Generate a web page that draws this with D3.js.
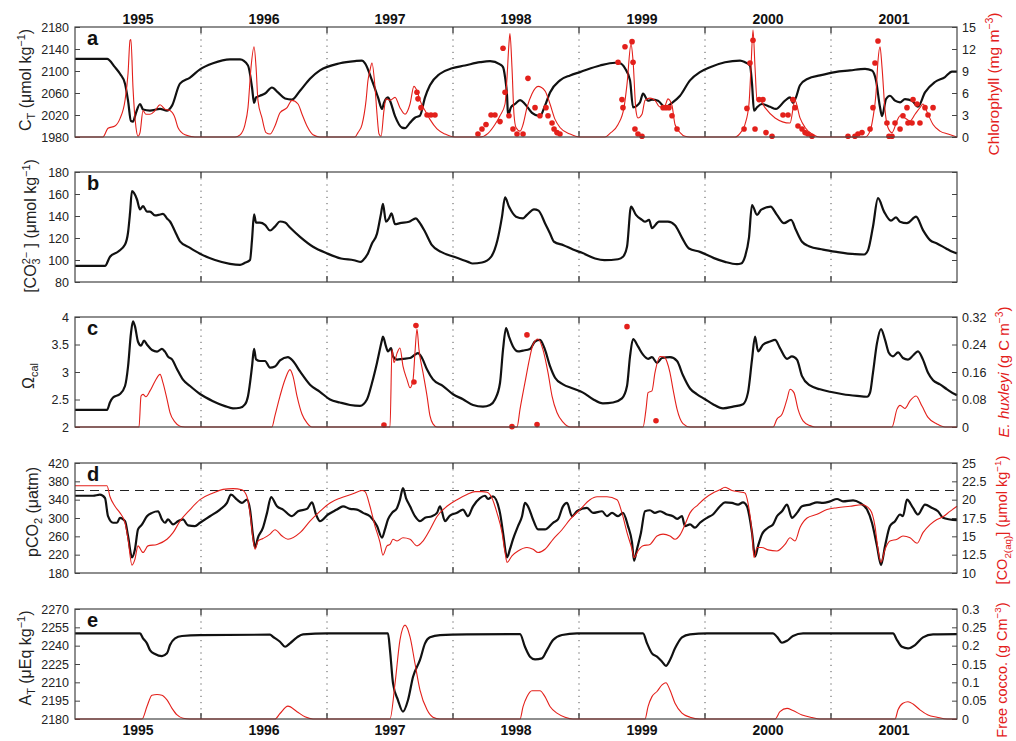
<!DOCTYPE html>
<html>
<head>
<meta charset="utf-8">
<script src="https://cdn.jsdelivr.net/npm/d3@7"></script>
<style>
body{margin:0;background:#fff;}
svg text{font-family:"Liberation Sans",Arial,Helvetica,sans-serif;}
</style>
</head>
<body>
<svg id="chart" width="1016" height="741"></svg>
<script>
// ---- data (time in decimal years) ----
const years = [1995,1996,1997,1998,1999,2000,2001];
const yearBreaks = [1995.5,1996.5,1997.5,1998.5,1999.5,2000.5];

const ctTicks = [1980,2020,2060,2100,2140,2180];
const chlTicks = [0,3,6,9,12,15];
const co3Ticks = [80,100,120,140,160,180];
const omegaTicks = [2,2.5,3,3.5,4];
const huxTicks = [0,0.08,0.16,0.24,0.32];
const pco2Ticks = [180,220,260,300,340,380,420];
const co2aqTicks = [10,12.5,15,17.5,20,22.5,25];
const atTicks = [2180,2195,2210,2225,2240,2255,2270];
const coccoTicks = [0,0.05,0.1,0.15,0.2,0.25,0.3];
const pco2Ref = 360;

// a: total inorganic carbon (model) and chlorophyll
const ctSeries = [[1994.5,2122],[1994.754,2122],[1994.817,2107],[1994.857,2095],[1994.897,2077],[1994.921,2046],[1994.944,2009],[1994.96,2008],[1994.984,2024],[1995.016,2040],[1995.04,2030],[1995.095,2028],[1995.175,2031],[1995.23,2028],[1995.27,2037],[1995.333,2077],[1995.413,2088],[1995.492,2103],[1995.595,2114],[1995.73,2121],[1995.81,2121],[1995.873,2110],[1995.905,2070],[1995.921,2042],[1995.937,2052],[1995.968,2055],[1996.008,2059],[1996.063,2070],[1996.111,2061],[1996.167,2050],[1996.222,2048],[1996.286,2064],[1996.365,2086],[1996.444,2101],[1996.603,2114],[1996.722,2118],[1996.778,2119],[1996.802,2114],[1996.857,2083],[1996.905,2052],[1996.937,2031],[1996.952,2042],[1996.984,2052],[1997,2046],[1997.04,2018],[1997.095,1997],[1997.119,1996],[1997.159,2006],[1997.198,2015],[1997.238,2019],[1997.278,2052],[1997.317,2074],[1997.397,2095],[1997.492,2105],[1997.595,2110],[1997.714,2116],[1997.794,2118],[1997.873,2112],[1997.897,2107],[1997.913,2089],[1997.929,2055],[1997.937,2019],[1997.96,2034],[1997.992,2040],[1998.032,2047],[1998.071,2040],[1998.127,2024],[1998.19,2018],[1998.23,2037],[1998.27,2061],[1998.349,2083],[1998.429,2092],[1998.508,2098],[1998.667,2110],[1998.786,2115],[1998.825,2114],[1998.865,2105],[1998.905,2083],[1998.929,2034],[1998.984,2043],[1999.008,2059],[1999.048,2046],[1999.079,2048],[1999.127,2046],[1999.183,2034],[1999.238,2042],[1999.302,2055],[1999.381,2083],[1999.46,2098],[1999.54,2107],[1999.659,2116],[1999.778,2119],[1999.817,2116],[1999.857,2110],[1999.873,2077],[1999.889,2028],[1999.913,2034],[1999.952,2040],[2000.016,2035],[2000.063,2031],[2000.135,2046],[2000.175,2052],[2000.198,2042],[2000.222,2052],[2000.254,2074],[2000.317,2086],[2000.413,2092],[2000.532,2098],[2000.651,2101],[2000.77,2104],[2000.825,2101],[2000.857,2083],[2000.889,2034],[2000.905,2018],[2000.937,2049],[2000.968,2055],[2001.008,2046],[2001.048,2043],[2001.087,2049],[2001.143,2046],[2001.19,2035],[2001.246,2061],[2001.325,2080],[2001.405,2089],[2001.46,2099],[2001.5,2099]];

const chlSeries = [[1994.5,0],[1994.722,0],[1994.762,1.2],[1994.817,1.5],[1994.857,2.5],[1994.897,5],[1994.921,8.7],[1994.937,13.2],[1994.944,13.3],[1994.96,6.8],[1994.984,1.3],[1995,0.1],[1995.016,0.6],[1995.04,3.6],[1995.063,3.1],[1995.095,3.1],[1995.135,3.6],[1995.175,4.4],[1995.214,3.8],[1995.254,3.6],[1995.294,2.6],[1995.317,1.3],[1995.373,0.3],[1995.452,0],[1995.77,0],[1995.81,0.3],[1995.849,1.7],[1995.873,4],[1995.897,9.5],[1995.921,12.3],[1995.937,9.5],[1995.952,5],[1995.984,2.6],[1996.016,0.6],[1996.048,0.4],[1996.087,1.5],[1996.127,3.3],[1996.183,4],[1996.222,5],[1996.27,4.5],[1996.302,3.1],[1996.341,1.5],[1996.389,0.3],[1996.444,0],[1996.722,0],[1996.746,0.6],[1996.778,1.7],[1996.81,5],[1996.825,7.7],[1996.841,9.1],[1996.857,10.1],[1996.881,6.8],[1996.897,3.1],[1996.913,0.4],[1996.929,0.1],[1996.952,3.6],[1996.968,5.2],[1997,5],[1997.04,5.4],[1997.079,4],[1997.119,3.1],[1997.159,4.5],[1997.19,6.9],[1997.214,6.3],[1997.238,5],[1997.278,3.6],[1997.317,2.4],[1997.373,1.1],[1997.437,0.4],[1997.516,0],[1997.714,0],[1997.778,0.5],[1997.833,1.7],[1997.873,2.9],[1997.913,4.5],[1997.929,8.2],[1997.944,12.7],[1997.952,14.1],[1997.968,9.5],[1997.984,3.1],[1998,1.3],[1998.032,0.8],[1998.056,1.7],[1998.087,4],[1998.127,5.9],[1998.175,6.9],[1998.23,6.3],[1998.27,4.5],[1998.31,2.4],[1998.349,1.3],[1998.429,0.4],[1998.508,0],[1998.706,0],[1998.746,0.5],[1998.81,1.7],[1998.857,4],[1998.881,7.2],[1998.913,12.7],[1998.929,10.4],[1998.952,3.6],[1998.968,2.6],[1999,3.1],[1999.024,5],[1999.063,5.3],[1999.103,5],[1999.143,4.1],[1999.183,4.3],[1999.206,5.2],[1999.238,4.3],[1999.262,1.7],[1999.302,0.6],[1999.341,0.1],[1999.381,0],[1999.738,0],[1999.778,0.5],[1999.817,1.7],[1999.849,4.5],[1999.865,9.5],[1999.881,14.6],[1999.897,9.5],[1999.913,5],[1999.937,5],[1999.976,4],[2000.056,2.6],[2000.175,1.9],[2000.214,5],[2000.254,2.6],[2000.294,1.3],[2000.349,0.4],[2000.413,0],[2000.77,0],[2000.81,0.8],[2000.833,2.6],[2000.857,5.9],[2000.873,10.4],[2000.889,12.3],[2000.905,9.5],[2000.929,3.6],[2000.952,1.3],[2000.984,0.6],[2001.024,2.2],[2001.048,2.9],[2001.087,2.6],[2001.127,2.2],[2001.167,3.1],[2001.206,4],[2001.23,4.5],[2001.27,3.1],[2001.31,1.7],[2001.365,0.8],[2001.429,0.4],[2001.5,0]];

const chlObs = [[1997.214,6.1],[1997.222,5.2],[1997.246,4.0],[1997.294,3.0],[1997.325,3.0],[1997.357,3.0],[1997.698,0.4],[1997.73,1.1],[1997.762,1.7],[1997.802,3.0],[1997.833,3.0],[1997.873,2.1],[1997.897,12.1],[1997.913,6.1],[1997.944,2.9],[1997.976,1.1],[1998.008,0.4],[1998.056,0.4],[1998.095,8.0],[1998.151,4.0],[1998.19,2.9],[1998.238,4.0],[1998.254,2.9],[1998.286,1.9],[1998.302,1.1],[1998.325,0.6],[1998.349,0.4],[1998.81,10.2],[1998.841,5.1],[1998.849,4.0],[1998.865,12.3],[1998.921,13.0],[1998.929,10.2],[1998.944,1.1],[1998.968,0.4],[1999,0.1],[1999.167,4.0],[1999.19,4.0],[1999.214,4.0],[1999.238,2.9],[1999.278,1.1],[1999.81,1.1],[1999.833,3.9],[1999.857,10.1],[1999.881,13.2],[1999.897,1.1],[1999.929,5.1],[1999.96,5.1],[1999.984,0.6],[2000.032,0.1],[2000.119,3.0],[2000.159,3.0],[2000.198,5.1],[2000.214,4.0],[2000.238,1.5],[2000.27,1.1],[2000.294,0.6],[2000.317,0.4],[2000.349,0.1],[2000.635,0.1],[2000.69,0.1],[2000.714,0.4],[2000.746,0.6],[2000.81,1.1],[2000.833,4.0],[2000.849,10.1],[2000.873,13.1],[2000.944,1.9],[2000.96,0.1],[2000.984,0.1],[2001.008,1.9],[2001.048,1.1],[2001.071,2.9],[2001.103,4.0],[2001.111,1.9],[2001.143,1.9],[2001.151,5.1],[2001.183,4.5],[2001.206,1.9],[2001.246,4.0],[2001.27,3.0],[2001.31,4.0]];

// b: carbonate ion
const co3Series = [[1994.5,94.7],[1994.738,94.7],[1994.778,103],[1994.841,107.5],[1994.897,114],[1994.921,125],[1994.937,143],[1994.952,162.6],[1994.968,161],[1994.992,155],[1995.016,146],[1995.04,149],[1995.071,144],[1995.095,144],[1995.135,140.5],[1995.175,141.4],[1995.198,142],[1995.23,137.8],[1995.254,135],[1995.294,126],[1995.333,117],[1995.413,111],[1995.492,105.7],[1995.611,100],[1995.73,96.5],[1995.81,95.6],[1995.849,97.4],[1995.889,100],[1995.905,118.5],[1995.921,141.4],[1995.937,134],[1995.968,134],[1996.008,132],[1996.048,126.8],[1996.087,130.4],[1996.127,135],[1996.167,134],[1996.206,129.5],[1996.286,121],[1996.389,112],[1996.5,106],[1996.611,101.4],[1996.714,99.8],[1996.77,98.3],[1996.786,99.8],[1996.825,106],[1996.857,115],[1996.897,124],[1996.929,142.4],[1996.944,151],[1996.968,134.8],[1996.992,137.9],[1997.012,142.4],[1997.04,132.5],[1997.079,133.5],[1997.151,134.8],[1997.206,137.9],[1997.23,134.8],[1997.278,125.7],[1997.333,113.5],[1997.405,107.4],[1997.508,102.9],[1997.619,98.3],[1997.655,96.8],[1997.73,97.7],[1997.802,102.9],[1997.853,118.1],[1997.889,139.4],[1997.913,157],[1997.944,148.6],[1998,139.4],[1998.056,137.9],[1998.087,141],[1998.143,146.1],[1998.179,144.9],[1998.23,133.5],[1998.27,124],[1998.302,116.6],[1998.377,113.5],[1998.452,109.5],[1998.524,106.5],[1998.627,101.4],[1998.702,99.8],[1998.81,100.7],[1998.849,102.9],[1998.881,112],[1998.913,148.6],[1998.952,141],[1999,136.5],[1999.024,134.8],[1999.056,136.5],[1999.079,129],[1999.135,134.8],[1999.206,134.8],[1999.262,131.6],[1999.317,120.4],[1999.373,110.5],[1999.46,107.4],[1999.571,101.7],[1999.659,98.3],[1999.754,96.2],[1999.786,96.8],[1999.817,102.9],[1999.849,120.4],[1999.873,150],[1999.913,141],[1999.944,145.5],[2000.02,148.6],[2000.071,141],[2000.127,133.5],[2000.183,136.5],[2000.222,127.2],[2000.27,116.6],[2000.325,112.6],[2000.437,109.5],[2000.544,107.4],[2000.69,105.3],[2000.762,105],[2000.794,109],[2000.833,130.2],[2000.873,156.2],[2000.921,144],[2000.976,135.8],[2001.016,138.8],[2001.048,134.8],[2001.103,133.5],[2001.175,139.4],[2001.23,127.2],[2001.286,118.1],[2001.341,115],[2001.413,110.5],[2001.464,107.4],[2001.5,106]];

// c: calcite saturation and E. huxleyi biomass
const omegaSeries = [[1994.5,2.31],[1994.754,2.31],[1994.778,2.45],[1994.802,2.535],[1994.857,2.6],[1994.897,2.745],[1994.921,3.1],[1994.944,3.7],[1994.96,3.92],[1994.976,3.83],[1995,3.55],[1995.024,3.48],[1995.048,3.57],[1995.071,3.5],[1995.111,3.4],[1995.151,3.37],[1995.19,3.42],[1995.214,3.37],[1995.238,3.28],[1995.27,3.23],[1995.31,3.05],[1995.357,2.86],[1995.413,2.745],[1995.492,2.6],[1995.595,2.47],[1995.69,2.38],[1995.754,2.34],[1995.81,2.35],[1995.849,2.41],[1995.873,2.56],[1995.905,3.1],[1995.921,3.42],[1995.937,3.23],[1995.968,3.2],[1996.008,3.2],[1996.048,3.08],[1996.087,3.1],[1996.127,3.21],[1996.19,3.27],[1996.23,3.2],[1996.286,3.01],[1996.365,2.77],[1996.444,2.64],[1996.524,2.5],[1996.603,2.445],[1996.683,2.4],[1996.762,2.385],[1996.817,2.5],[1996.857,2.8],[1996.897,3.17],[1996.937,3.585],[1996.944,3.645],[1996.968,3.465],[1996.984,3.375],[1997.008,3.435],[1997.024,3.285],[1997.056,3.225],[1997.103,3.24],[1997.159,3.255],[1997.198,3.315],[1997.222,3.345],[1997.254,3.255],[1997.294,3.045],[1997.341,2.865],[1997.421,2.745],[1997.5,2.595],[1997.579,2.505],[1997.659,2.4],[1997.738,2.37],[1997.794,2.4],[1997.833,2.5],[1997.873,2.8],[1997.897,3.405],[1997.921,3.8],[1997.944,3.645],[1997.976,3.465],[1998.016,3.375],[1998.056,3.39],[1998.111,3.42],[1998.151,3.555],[1998.19,3.585],[1998.23,3.405],[1998.27,3.105],[1998.31,2.895],[1998.373,2.775],[1998.452,2.7],[1998.532,2.625],[1998.611,2.505],[1998.69,2.43],[1998.77,2.445],[1998.841,2.52],[1998.881,2.745],[1998.905,3.285],[1998.929,3.6],[1998.968,3.465],[1999.008,3.315],[1999.048,3.24],[1999.079,3.27],[1999.119,3.165],[1999.159,3.255],[1999.222,3.27],[1999.278,3.2],[1999.325,2.94],[1999.381,2.7],[1999.437,2.595],[1999.5,2.505],[1999.563,2.415],[1999.643,2.34],[1999.722,2.37],[1999.802,2.415],[1999.841,2.625],[1999.873,3.225],[1999.897,3.645],[1999.921,3.375],[1999.96,3.495],[2000.016,3.555],[2000.056,3.585],[2000.095,3.435],[2000.151,3.24],[2000.19,3.285],[2000.23,3.225],[2000.27,2.925],[2000.333,2.755],[2000.413,2.685],[2000.492,2.64],[2000.595,2.595],[2000.706,2.565],[2000.786,2.55],[2000.81,2.625],[2000.833,2.985],[2000.865,3.525],[2000.897,3.78],[2000.929,3.585],[2000.96,3.345],[2000.992,3.285],[2001.032,3.357],[2001.071,3.255],[2001.111,3.225],[2001.151,3.3],[2001.19,3.375],[2001.23,3.225],[2001.27,2.985],[2001.31,2.85],[2001.365,2.775],[2001.421,2.685],[2001.484,2.595],[2001.5,2.58]];

const huxSeries = [[1994.5,0],[1995.008,0],[1995.024,0.09],[1995.04,0.095],[1995.063,0.088],[1995.095,0.105],[1995.135,0.133],[1995.175,0.153],[1995.198,0.129],[1995.23,0.081],[1995.254,0.042],[1995.294,0.014],[1995.333,0.002],[1995.373,0],[1996.063,0],[1996.087,0.033],[1996.127,0.09],[1996.167,0.138],[1996.206,0.167],[1996.23,0.148],[1996.262,0.09],[1996.302,0.037],[1996.341,0.012],[1996.381,0],[1997,0],[1997.016,0.225],[1997.032,0.187],[1997.056,0.215],[1997.079,0.23],[1997.103,0.177],[1997.135,0.138],[1997.159,0.114],[1997.183,0.138],[1997.198,0.215],[1997.214,0.285],[1997.23,0.225],[1997.262,0.158],[1997.294,0.09],[1997.317,0.033],[1997.341,0.009],[1997.373,0],[1998.008,0],[1998.032,0.052],[1998.071,0.129],[1998.111,0.205],[1998.135,0.24],[1998.175,0.256],[1998.214,0.225],[1998.254,0.158],[1998.286,0.09],[1998.325,0.042],[1998.373,0.014],[1998.429,0],[1999.008,0],[1999.032,0.052],[1999.048,0.1],[1999.079,0.105],[1999.103,0.158],[1999.143,0.205],[1999.175,0.204],[1999.198,0.19],[1999.222,0.158],[1999.246,0.11],[1999.278,0.052],[1999.325,0.01],[1999.381,0],[2000.04,0],[2000.071,0.023],[2000.111,0.037],[2000.151,0.081],[2000.175,0.11],[2000.206,0.1],[2000.238,0.052],[2000.278,0.018],[2000.333,0.004],[2000.373,0],[2000.984,0],[2001.024,0.052],[2001.048,0.063],[2001.087,0.054],[2001.127,0.076],[2001.175,0.09],[2001.222,0.061],[2001.27,0.028],[2001.341,0.009],[2001.405,0],[2001.5,0]];

const huxObs = [[1996.952,0.006],[1997.19,0.131],[1997.206,0.295],[1997.968,0.001],[1998.087,0.268],[1998.167,0.007],[1998.881,0.292],[1999.111,0.018]];

// d: pCO2 and dissolved CO2
const pco2Series = [[1994.5,348.6],[1994.643,348.6],[1994.698,350.8],[1994.738,343.6],[1994.762,303.9],[1994.802,289.6],[1994.833,289.6],[1994.857,300.4],[1994.897,293],[1994.921,260.7],[1994.952,214],[1994.976,231.9],[1995,275],[1995.032,285.9],[1995.071,303.9],[1995.111,311.2],[1995.159,314.7],[1995.19,296.8],[1995.214,289.6],[1995.238,296.8],[1995.278,285.9],[1995.317,293],[1995.357,296.8],[1995.397,283.8],[1995.452,282.3],[1995.492,289.6],[1995.571,303.9],[1995.651,318.4],[1995.706,332.9],[1995.738,350.8],[1995.786,340],[1995.825,332.9],[1995.865,340],[1995.889,318.4],[1995.913,260.7],[1995.929,235.6],[1995.952,257.2],[1995.992,278.8],[1996.024,311.2],[1996.056,345.8],[1996.103,325.5],[1996.151,318.4],[1996.222,303.9],[1996.27,314.7],[1996.341,319.9],[1996.381,334.2],[1996.413,307.6],[1996.444,293],[1996.508,307.6],[1996.579,318.4],[1996.627,325.5],[1996.683,319.9],[1996.738,318.4],[1996.786,311.2],[1996.841,303.9],[1996.897,282.3],[1996.937,257.2],[1996.96,275],[1996.984,296.8],[1997.016,311.2],[1997.056,322],[1997.079,340],[1997.103,365.3],[1997.127,343.6],[1997.159,325.5],[1997.198,303.9],[1997.238,293],[1997.278,300.4],[1997.333,303.9],[1997.373,311.2],[1997.397,325.5],[1997.437,293],[1997.476,305.4],[1997.532,311.2],[1997.579,318.4],[1997.619,303.9],[1997.659,325.5],[1997.714,343.6],[1997.754,348.6],[1997.778,341.5],[1997.817,347.2],[1997.873,311.2],[1997.897,268],[1997.929,214],[1997.952,231.9],[1997.976,253.5],[1998.016,282.3],[1998.048,303.9],[1998.071,332.9],[1998.095,325.5],[1998.135,296.8],[1998.175,275],[1998.23,275],[1998.294,289.6],[1998.333,296.8],[1998.373,325.5],[1998.405,332.9],[1998.444,303.9],[1998.484,314.7],[1998.563,322],[1998.611,311.2],[1998.683,314.7],[1998.722,303.9],[1998.762,311.2],[1998.81,303.9],[1998.849,311.2],[1998.889,282.3],[1998.921,246.4],[1998.937,206.6],[1998.96,231.9],[1998.992,268],[1999.024,314.7],[1999.063,316.9],[1999.103,311.2],[1999.143,314.7],[1999.198,307.6],[1999.246,303.9],[1999.278,298.2],[1999.317,303.9],[1999.341,282.3],[1999.381,285.9],[1999.421,278.8],[1999.46,289.6],[1999.516,300.4],[1999.563,307.6],[1999.619,325.5],[1999.659,334.2],[1999.714,332.9],[1999.762,329.2],[1999.802,334.2],[1999.833,325.5],[1999.873,268],[1999.897,216.1],[1999.921,239],[1999.952,264.3],[2000,278.8],[2000.04,285.9],[2000.071,303.9],[2000.111,314.7],[2000.151,329.2],[2000.19,300.4],[2000.23,311.2],[2000.27,325.5],[2000.333,329.2],[2000.389,334.2],[2000.437,332.9],[2000.492,336.3],[2000.548,341.5],[2000.595,336.3],[2000.675,338.5],[2000.73,332.9],[2000.786,318.4],[2000.825,289.6],[2000.865,239],[2000.897,197.3],[2000.929,239],[2000.968,282.3],[2001.008,293],[2001.048,307.6],[2001.071,303.9],[2001.103,340],[2001.151,322],[2001.19,307.6],[2001.246,329.2],[2001.302,322],[2001.349,314.7],[2001.389,300.4],[2001.444,296.8],[2001.5,295.3]];

const co2aqSeries = [[1994.5,21.9],[1994.754,21.9],[1994.778,20.4],[1994.817,19.1],[1994.857,18.2],[1994.897,16.85],[1994.921,14.6],[1994.952,11.08],[1994.976,11.9],[1995,13.7],[1995.04,12.8],[1995.079,13.7],[1995.151,13.9],[1995.23,14.6],[1995.278,15.5],[1995.333,17.07],[1995.413,18.65],[1995.492,20],[1995.595,20.9],[1995.675,21.4],[1995.754,21.5],[1995.825,21.35],[1995.865,20.4],[1995.889,18.2],[1995.913,14.6],[1995.929,13.24],[1995.952,14.36],[1995.992,14.7],[1996.048,15.3],[1996.087,15.9],[1996.143,15.04],[1996.19,14.6],[1996.286,15.5],[1996.365,17.07],[1996.444,18.4],[1996.524,19.55],[1996.603,20.2],[1996.706,20.8],[1996.778,21.25],[1996.802,21.1],[1996.841,19.1],[1996.881,16.4],[1996.921,14.15],[1996.944,12.43],[1996.976,13.7],[1997,13.9],[1997.024,14.6],[1997.056,14.36],[1997.103,14.8],[1997.159,14.6],[1997.214,13.7],[1997.262,14.36],[1997.317,15.9],[1997.373,17.7],[1997.452,19.1],[1997.532,20],[1997.611,20.7],[1997.675,21.1],[1997.73,21.1],[1997.77,21],[1997.81,20.2],[1997.849,18.2],[1997.889,15.5],[1997.913,12.8],[1997.929,11.45],[1997.968,12.34],[1998.016,13.0],[1998.087,13.47],[1998.135,13.24],[1998.175,12.8],[1998.23,13.24],[1998.294,14.6],[1998.365,15.9],[1998.429,17.3],[1998.508,18.65],[1998.587,20],[1998.643,20.4],[1998.722,20.4],[1998.802,20],[1998.841,18.2],[1998.881,15.5],[1998.921,13.24],[1998.937,12.1],[1998.968,13.0],[1999.008,13.7],[1999.063,13.9],[1999.119,15.04],[1999.167,15.3],[1999.222,15.04],[1999.262,14.6],[1999.302,15.2],[1999.341,16.6],[1999.381,18.2],[1999.444,19.3],[1999.5,20.2],[1999.563,20.9],[1999.619,21.35],[1999.659,21.7],[1999.714,21.25],[1999.778,21.04],[1999.817,20.9],[1999.841,19.55],[1999.873,15.5],[1999.889,12.1],[1999.913,13.47],[1999.952,13.47],[2000,13.15],[2000.071,13.0],[2000.135,13.9],[2000.175,14.8],[2000.214,14.36],[2000.254,16.2],[2000.31,17.5],[2000.389,18.0],[2000.468,18.65],[2000.548,18.9],[2000.651,19.1],[2000.746,19.3],[2000.81,18.65],[2000.849,16.4],[2000.873,13.24],[2000.897,11.45],[2000.929,13.24],[2000.968,14.36],[2001.024,14.6],[2001.071,15.04],[2001.127,14.8],[2001.183,14.05],[2001.23,15.5],[2001.286,16.6],[2001.341,17.3],[2001.389,17.66],[2001.444,18.4],[2001.5,19.1]];

// e: total alkalinity and free coccoliths
const atSeries = [[1994.5,2250],[1995.016,2250],[1995.04,2246],[1995.071,2241.9],[1995.095,2236.4],[1995.135,2233.2],[1995.19,2231.5],[1995.23,2233.7],[1995.254,2240.5],[1995.294,2246],[1995.349,2247.9],[1995.492,2248.7],[1996.048,2249],[1996.071,2247.3],[1996.127,2243.2],[1996.167,2239.1],[1996.206,2241.9],[1996.262,2246.8],[1996.31,2249.3],[1996.5,2250],[1996.984,2250],[1997,2236.4],[1997.024,2209.2],[1997.063,2195.5],[1997.103,2186],[1997.143,2195.5],[1997.183,2214.6],[1997.238,2228.3],[1997.278,2241.9],[1997.317,2246.8],[1997.397,2248.7],[1997.611,2249.3],[1998.032,2249.5],[1998.071,2239.1],[1998.111,2231],[1998.151,2228.8],[1998.206,2229.6],[1998.246,2236.4],[1998.294,2244.6],[1998.365,2248.7],[1998.484,2250],[1999.008,2250],[1999.04,2241.9],[1999.079,2233.7],[1999.119,2231],[1999.159,2226.9],[1999.19,2223.4],[1999.222,2228.3],[1999.262,2237.8],[1999.317,2246.8],[1999.381,2249.3],[1999.516,2250],[2000.04,2250],[2000.071,2247.3],[2000.111,2242.4],[2000.151,2244],[2000.198,2247.9],[2000.278,2250],[2000.992,2250],[2001.024,2244.6],[2001.063,2239.1],[2001.111,2237.8],[2001.167,2240.5],[2001.23,2246.8],[2001.31,2249.3],[2001.5,2249.5]];

const coccoSeries = [[1994.5,0],[1995.032,0],[1995.071,0.034],[1995.111,0.065],[1995.151,0.067],[1995.19,0.065],[1995.23,0.052],[1995.27,0.029],[1995.31,0.011],[1995.357,0.002],[1995.413,0],[1996.087,0],[1996.127,0.015],[1996.19,0.035],[1996.262,0.02],[1996.325,0.006],[1996.389,0],[1997,0],[1997.04,0.097],[1997.079,0.215],[1997.119,0.256],[1997.159,0.224],[1997.198,0.152],[1997.238,0.079],[1997.294,0.025],[1997.341,0.005],[1997.397,0],[1998.032,0],[1998.056,0.034],[1998.087,0.061],[1998.127,0.077],[1998.19,0.077],[1998.23,0.061],[1998.27,0.034],[1998.325,0.016],[1998.389,0.005],[1998.452,0],[1999.024,0],[1999.048,0.034],[1999.079,0.061],[1999.119,0.075],[1999.159,0.093],[1999.19,0.099],[1999.222,0.079],[1999.262,0.043],[1999.317,0.016],[1999.381,0.005],[1999.46,0],[2000.056,0],[2000.095,0.02],[2000.151,0.029],[2000.198,0.023],[2000.27,0.011],[2000.349,0.004],[2000.413,0],[2001.008,0],[2001.032,0.025],[2001.071,0.043],[2001.111,0.047],[2001.151,0.041],[2001.206,0.025],[2001.27,0.011],[2001.341,0.005],[2001.421,0],[2001.5,0]];

// ---- layout ----
const RED = '#e3201b', BLACK = '#111', FRAME = '#444';
const plotLeft = 75, plotRight = 957, panelH = 110;
const svg = d3.select('#chart');

const x = d3.scaleLinear().domain([1994.5, 2001.5]).range([plotLeft, plotRight]);

const panels = [
  {letter:'a', top:27, left:{domain:[1980,2180], ticks:ctTicks}, right:{domain:[0,15], ticks:chlTicks, labels:true},
   black:ctSeries, red:chlSeries, dots:chlObs},
  {letter:'b', top:172, left:{domain:[80,180], ticks:co3Ticks}, right:{domain:[80,180], ticks:co3Ticks, labels:false},
   black:co3Series},
  {letter:'c', top:317, left:{domain:[2,4], ticks:omegaTicks}, right:{domain:[0,0.32], ticks:huxTicks, labels:true},
   black:omegaSeries, red:huxSeries, dots:huxObs},
  {letter:'d', top:463, left:{domain:[180,420], ticks:pco2Ticks}, right:{domain:[10,25], ticks:co2aqTicks, labels:true},
   black:pco2Series, red:co2aqSeries, ref:pco2Ref},
  {letter:'e', top:609, left:{domain:[2180,2270], ticks:atTicks}, right:{domain:[0,0.3], ticks:coccoTicks, labels:true},
   black:atSeries, red:coccoSeries}
];

panels.forEach(p => {
  const yL = d3.scaleLinear().domain(p.left.domain).range([p.top + panelH, p.top]);
  const yR = d3.scaleLinear().domain(p.right.domain).range([p.top + panelH, p.top]);
  const g = svg.append('g');

  // year dividers: dotted grid + solid ticks top/bottom
  g.selectAll('line.grid').data(yearBreaks).enter().append('line')
    .attr('x1', d => x(d)).attr('x2', d => x(d))
    .attr('y1', p.top).attr('y2', p.top + panelH)
    .attr('stroke', '#555').attr('stroke-width', 1)
    .attr('stroke-dasharray', '1.2,5');
  g.selectAll('line.tt').data(yearBreaks).enter().append('line')
    .attr('x1', d => x(d)).attr('x2', d => x(d))
    .attr('y1', p.top).attr('y2', p.top + 6)
    .attr('stroke', FRAME).attr('stroke-width', 1.4);
  g.selectAll('line.tb').data(yearBreaks).enter().append('line')
    .attr('x1', d => x(d)).attr('x2', d => x(d))
    .attr('y1', p.top + panelH - 6).attr('y2', p.top + panelH)
    .attr('stroke', FRAME).attr('stroke-width', 1.4);

  // reference line
  if (p.ref !== undefined) {
    g.append('line')
      .attr('x1', plotLeft).attr('x2', plotRight)
      .attr('y1', yL(p.ref)).attr('y2', yL(p.ref))
      .attr('stroke', '#222').attr('stroke-width', 1.2)
      .attr('stroke-dasharray', '9,6');
  }

  // axes
  const leftAxis = g.append('g').attr('transform', `translate(${plotLeft},0)`)
    .call(d3.axisLeft(yL).tickValues(p.left.ticks).tickSizeInner(-5).tickSizeOuter(0)
      .tickPadding(6).tickFormat(d => String(d)));
  const rightAxis = g.append('g').attr('transform', `translate(${plotRight},0)`)
    .call(d3.axisRight(yR).tickValues(p.right.ticks).tickSizeInner(-5).tickSizeOuter(0)
      .tickPadding(5).tickFormat(d => p.right.labels ? String(d) : ''));
  [leftAxis, rightAxis].forEach(a => {
    a.select('.domain').remove();
    a.selectAll('line').attr('stroke', FRAME);
    a.selectAll('text').attr('font-size', 12.5).attr('fill', '#222');
  });

  // lines
  const lineL = d3.line().x(d => x(d[0])).y(d => yL(d[1])).curve(d3.curveMonotoneX);
  const lineR = d3.line().x(d => x(d[0])).y(d => yR(d[1])).curve(d3.curveMonotoneX);
  g.append('path').datum(p.black).attr('d', lineL)
    .attr('fill', 'none').attr('stroke', BLACK).attr('stroke-width', 2.2).attr('stroke-linejoin', 'round');
  if (p.red) {
    g.append('path').datum(p.red).attr('d', lineR)
      .attr('fill', 'none').attr('stroke', RED).attr('stroke-width', 1.1).attr('stroke-linejoin', 'round');
  }
  if (p.dots) {
    g.selectAll('circle').data(p.dots).enter().append('circle')
      .attr('cx', d => x(d[0])).attr('cy', d => yR(d[1])).attr('r', 2.8).attr('fill', RED);
  }

  // frame
  g.append('rect').attr('x', plotLeft).attr('y', p.top)
    .attr('width', plotRight - plotLeft).attr('height', panelH)
    .attr('fill', 'none').attr('stroke', FRAME).attr('stroke-width', 1.2);

  // panel letter
  g.append('text').attr('x', 87).attr('y', p.top + 18)
    .attr('font-size', 20).attr('font-weight', 'bold').attr('fill', '#111').text(p.letter);
});

// year labels top and bottom
svg.selectAll('text.yt').data(years).enter().append('text')
  .attr('x', d => x(d)).attr('y', 24).attr('text-anchor', 'middle')
  .attr('font-size', 14).attr('font-weight', 'bold').attr('fill', '#111').text(d => d);
svg.selectAll('text.yb').data(years).enter().append('text')
  .attr('x', d => x(d)).attr('y', 735).attr('text-anchor', 'middle')
  .attr('font-size', 14).attr('font-weight', 'bold').attr('fill', '#111').text(d => d);

// rotated axis titles: parts with s = 'sub' | 'sup', i = italic
function title(px, py, parts, color, size) {
  const t = svg.append('text')
    .attr('transform', `translate(${px},${py}) rotate(-90)`)
    .attr('text-anchor', 'middle').attr('font-size', size).attr('fill', color);
  let level = 0;
  parts.forEach(pt => {
    const target = pt.s === 'sub' ? 4 : pt.s === 'sup' ? -6 : 0;
    const ts = t.append('tspan').attr('dy', target - level).text(pt.t);
    if (pt.dx) ts.attr('dx', pt.dx);
    if (pt.s) ts.attr('font-size', size * 0.68);
    if (pt.i) ts.attr('font-style', 'italic');
    level = target;
  });
}

title(31, 80, [{t:'C'},{t:'T', s:'sub'},{t:' (μmol kg'},{t:'−1', s:'sup'},{t:')'}], '#222', 16);
title(36, 226, [{t:'[CO'},{t:'3', s:'sub'},{t:'2−', s:'sup', dx:-6},{t:' ] (μmol kg'},{t:'−1', s:'sup'},{t:')'}], '#222', 16);
title(34, 376, [{t:'Ω'},{t:'cal', s:'sub'}], '#222', 16);
title(38, 512, [{t:'pCO'},{t:'2', s:'sub'},{t:' (μatm)'}], '#222', 16);
title(31, 658, [{t:'A'},{t:'T', s:'sub'},{t:' (μEq kg'},{t:'−1', s:'sup'},{t:')'}], '#222', 16);

title(999, 84, [{t:'Chlorophyll (mg m'},{t:'−3', s:'sup'},{t:')'}], RED, 15.5);
title(1009, 372, [{t:'E. huxleyi', i:true},{t:' (g C m'},{t:'−3', s:'sup'},{t:')'}], RED, 15);
title(1007, 520, [{t:'[CO'},{t:'2(aq)', s:'sub'},{t:'] (μmol kg'},{t:'−1', s:'sup'},{t:')'}], RED, 14.5);
title(1007, 670, [{t:'Free cocco. (g Cm'},{t:'−3', s:'sup'},{t:')'}], RED, 14.5);
</script>
</body>
</html>
